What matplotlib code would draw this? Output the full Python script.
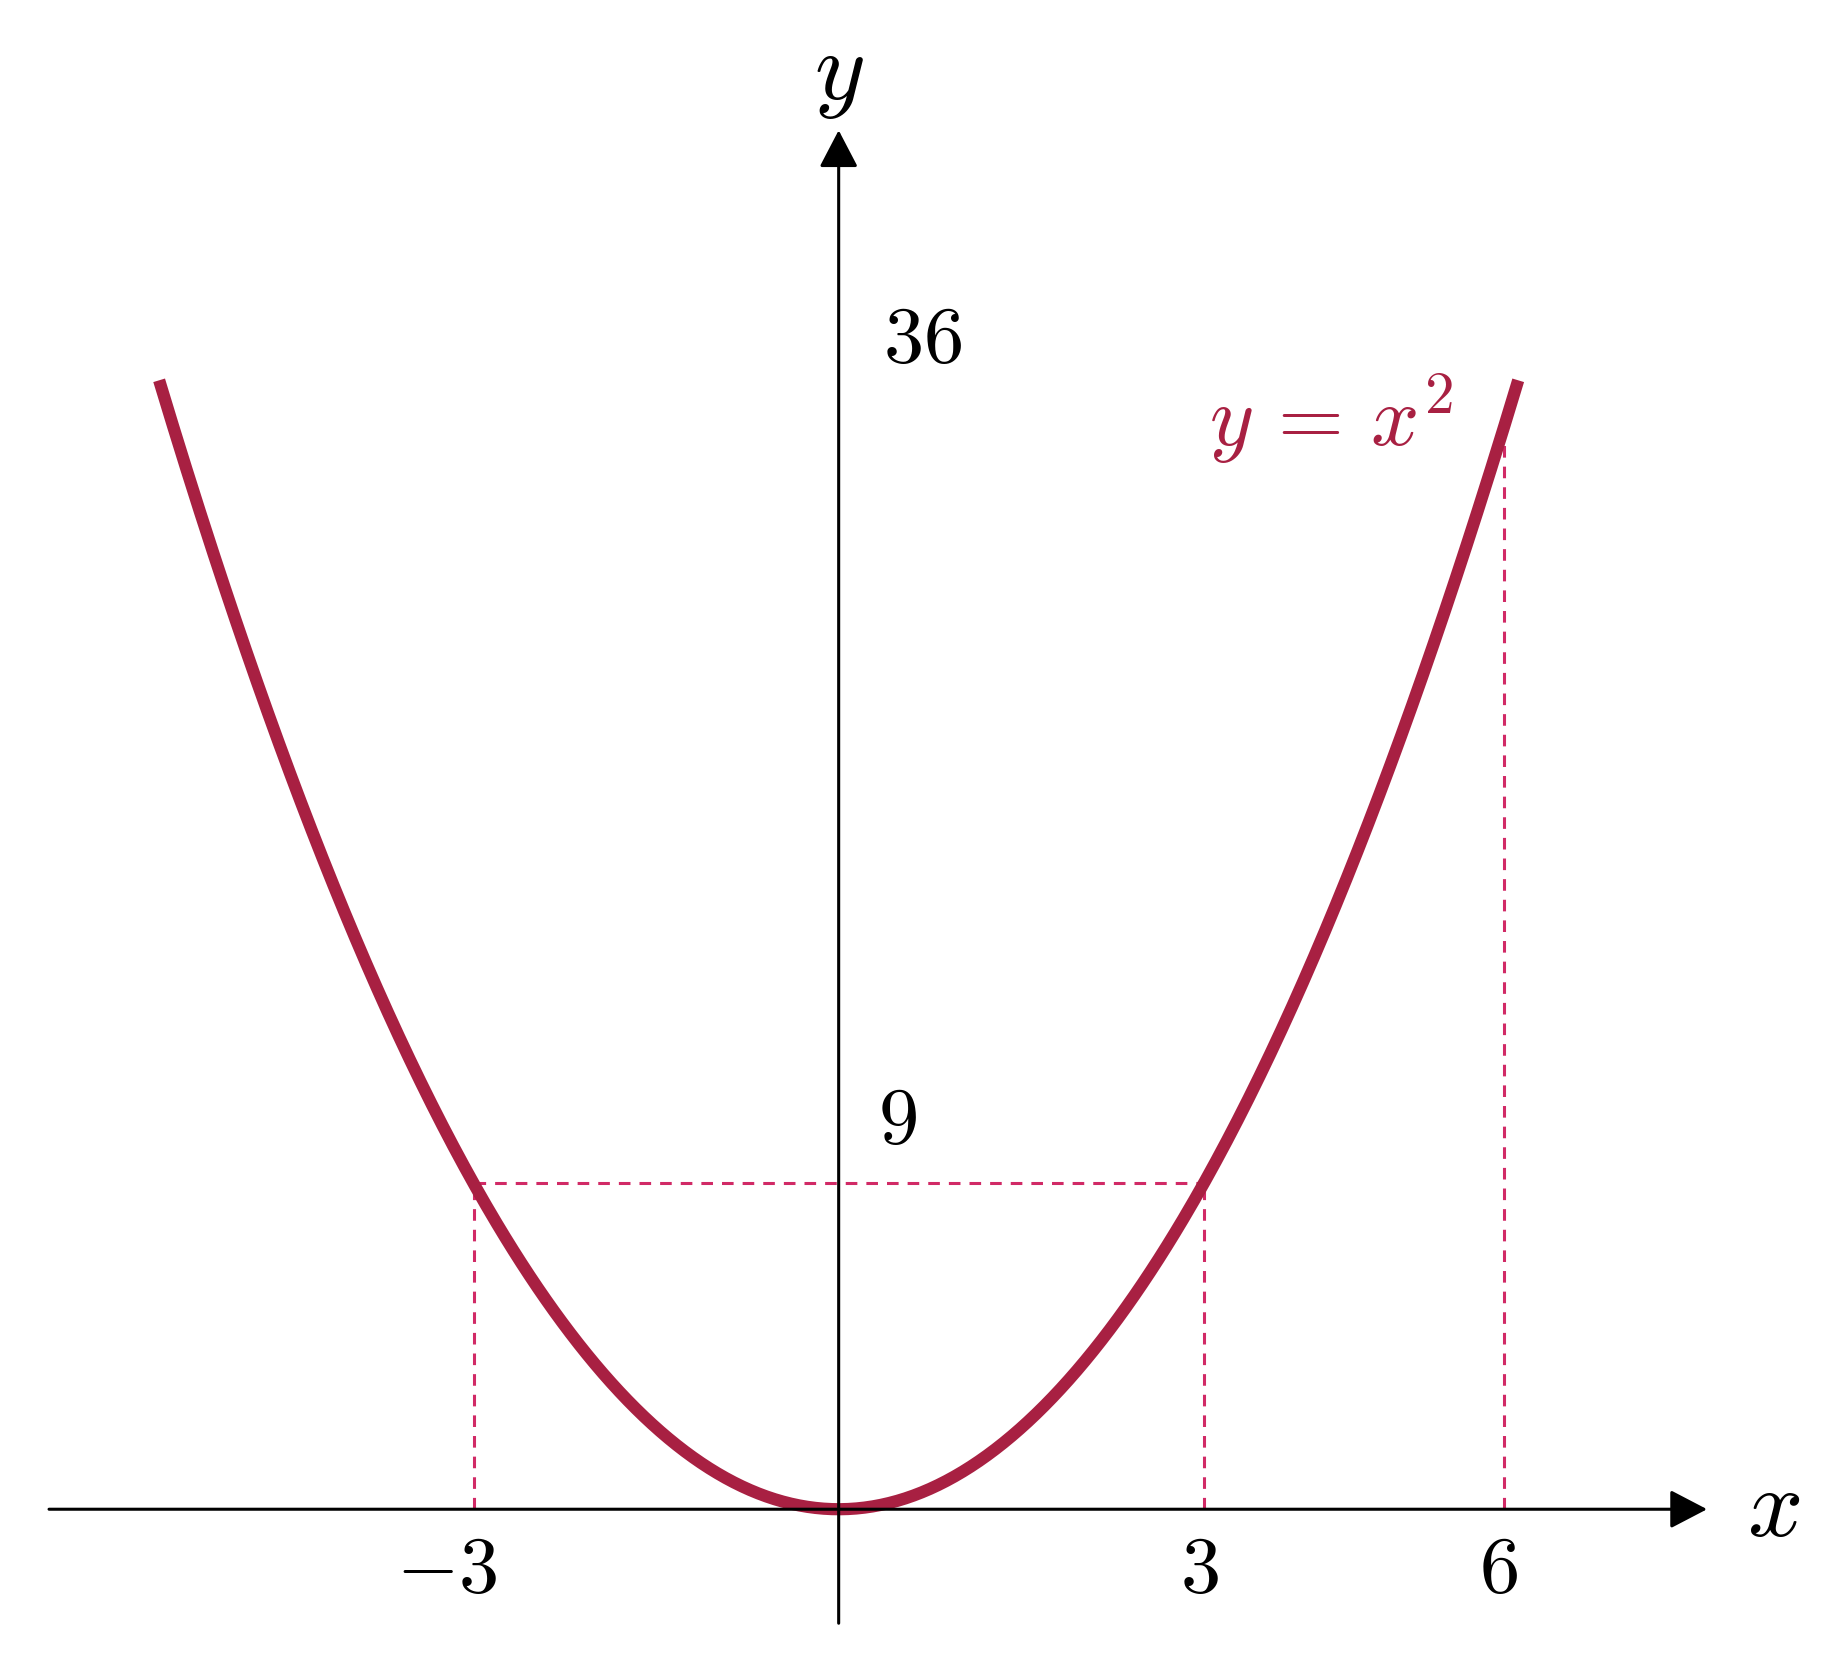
import numpy as np
import matplotlib.pyplot as plt
from matplotlib.patches import ArrowStyle

plt.rcParams["mathtext.fontset"] = "cm"

# values (in the sketch's own units, where x = 3 and y = 9
# sit where they should; the outer guide labelled 6 is drawn at about 5.47)
curve_x_max = 5.585
guide_x = [-3, 3, 5.47]
guide_top = [9, 9, 29.9]
x_tick_labels = ["$-3$", "$3$", "$6$"]
y_tick_labels = ["$9$", "$36$"]

curve_color = "#A82042"
guide_color = "#D12A66"

fig = plt.figure(figsize=(18.32, 16.54), dpi=100)
ax = fig.add_axes([0, 0, 1, 1])
ax.axis("off")
ax.set_xlim(-6.893, 8.164)
ax.set_ylim(-4.0, 41.7)

# parabola
xs = np.linspace(-curve_x_max, curve_x_max, 500)
ax.plot(xs, xs ** 2, color=curve_color, lw=8.8, solid_capstyle="butt", zorder=2)

# dashed guides
dash = dict(color=guide_color, lw=2.2, ls=(0, (3.8, 2.95)), zorder=1)
for gx, gy in zip(guide_x, guide_top):
    ax.plot([gx, gx], [0, gy], **dash)
ax.plot([guide_x[0], guide_x[1]], [guide_top[0], guide_top[1]], **dash)

# axes with arrow heads
arrow = dict(arrowstyle=ArrowStyle("-|>", head_length=23, head_width=12),
             mutation_scale=1, color="black", lw=2.2, shrinkA=0, shrinkB=0)
ax.annotate("", xy=(7.137, 0), xytext=(-6.49, 0), arrowprops=arrow, zorder=3)
ax.annotate("", xy=(0, 38.1), xytext=(0, -3.15), arrowprops=arrow, zorder=3)

ax.text(7.68, 0, "$x$", fontsize=70, ha="center", va="center")
ax.text(0, 39.65, "$y$", fontsize=70, ha="center", va="center")

# tick labels
for x, lab in zip([-3.219, 2.961, 5.419], x_tick_labels):
    ax.text(x, -1.69, lab, fontsize=58, ha="center", va="center")
for (x, y), lab in zip([(0.479, 10.72), (0.693, 32.3)], y_tick_labels):
    ax.text(x, y, lab, fontsize=58, ha="center", va="center")

# curve label
ax.text(4.048, 30.1, r"$y\,=\,x^2$", fontsize=61, color=curve_color,
        ha="center", va="center")

fig.savefig("out.png", dpi=100)
